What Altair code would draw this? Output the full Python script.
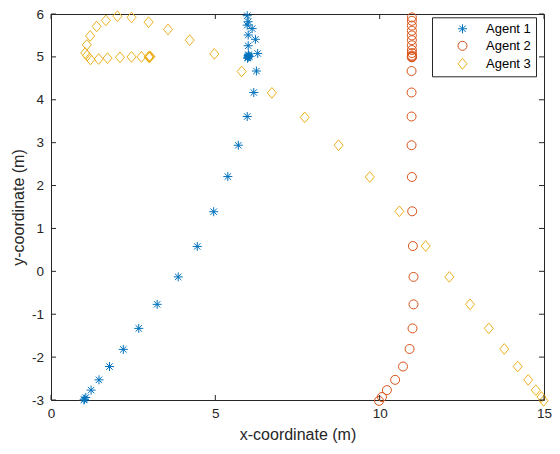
import altair as alt
import pandas as pd

agents = ["Agent 1", "Agent 2", "Agent 3"]
colors = ["#0072BD", "#D95319", "#EDB120"]

agent1_x = [1.00, 1.02, 1.06, 1.22, 1.46, 1.78, 2.20, 2.67, 3.23, 3.87, 4.45, 4.95, 5.38, 5.70,
            5.97, 6.17, 6.25, 6.29, 6.22, 6.12, 6.00, 6.00, 5.97, 6.00, 5.97,
            6.00, 6.02, 5.99, 6.01, 6.00, 5.98, 6.03]
agent1_y = [-3.00, -2.98, -2.94, -2.77, -2.53, -2.22, -1.82, -1.33, -0.77, -0.13, 0.58, 1.39, 2.21, 2.94,
            3.61, 4.17, 4.67, 5.08, 5.41, 5.66, 5.26, 5.51, 5.74, 5.82, 5.96,
            5.00, 5.02, 4.98, 5.05, 5.03, 4.97, 5.01]

agent2_x = [9.98, 10.07, 10.22, 10.47, 10.71, 10.91, 11.00, 11.03, 11.03, 11.01, 10.99, 10.98,
            10.97, 10.97, 10.97, 10.97, 10.98, 10.98, 10.98, 10.98, 10.98, 10.98, 10.98, 10.98,
            10.98, 10.98, 10.98, 10.98, 10.98]
agent2_y = [-3.02, -2.93, -2.77, -2.53, -2.22, -1.81, -1.33, -0.77, -0.13, 0.59, 1.40, 2.20,
            2.94, 3.61, 4.17, 4.67, 5.01, 4.99, 5.03, 5.09, 5.16, 5.27, 5.39, 5.50,
            5.61, 5.73, 5.84, 5.92, 5.00]

agent3_x = [14.99, 14.92, 14.75, 14.52, 14.20, 13.79, 13.32, 12.75, 12.12, 11.40, 10.60, 9.70,
            8.75, 7.72, 6.72, 5.80, 4.97, 4.22, 3.56, 2.97, 2.45, 2.02, 1.67, 1.39, 1.19, 1.09,
            1.04, 1.10, 1.20, 1.45, 1.72, 2.10, 2.45, 2.75, 2.97, 3.00, 3.02, 2.99, 3.01]
agent3_y = [-3.02, -2.93, -2.77, -2.53, -2.22, -1.81, -1.33, -0.77, -0.13, 0.59, 1.40, 2.20,
            2.94, 3.59, 4.16, 4.66, 5.07, 5.39, 5.64, 5.81, 5.92, 5.95, 5.85, 5.71, 5.49, 5.28,
            5.09, 5.03, 4.94, 4.95, 4.97, 4.99, 5.00, 5.00, 5.00, 5.00, 5.01, 4.99, 5.00]

tick_x = [0, 5, 10, 15]
tick_y = [-3, -2, -1, 0, 1, 2, 3, 4, 5, 6]

W, H = 493, 386
AX = "#262626"
FONT = "Liberation Sans"

df = pd.concat([
    pd.DataFrame({"x": agent1_x, "y": agent1_y, "agent": agents[0]}),
    pd.DataFrame({"x": agent2_x, "y": agent2_y, "agent": agents[1]}),
    pd.DataFrame({"x": agent3_x, "y": agent3_y, "agent": agents[2]}),
], ignore_index=True)

star = "M-0.9,0L0.9,0M0,-0.9L0,0.9M-0.64,-0.64L0.64,0.64M-0.64,0.64L0.64,-0.64"
circ = "M-0.9,0A0.9,0.9,0,1,1,0.9,0A0.9,0.9,0,1,1,-0.9,0Z"
diam = "M0,-1.07L0.9,0L0,1.07L-0.9,0Z"

xs = alt.Scale(domain=[0, 15], nice=False, zero=False)
ys = alt.Scale(domain=[-3, 6], nice=False, zero=False)

legend = alt.Legend(title=None, orient="none", legendX=381, legendY=3.3,
                    strokeColor=AX, fillColor="white", padding=5,
                    symbolOffset=19, labelOffset=17, rowPadding=3,
                    labelFontSize=13, labelFont=FONT, labelColor="black",
                    symbolStrokeWidth=1, symbolSize=100)

points = alt.Chart(df).mark_point(filled=False, opacity=1, strokeWidth=1, size=100).encode(
    x=alt.X("x:Q", scale=xs, axis=alt.Axis(title="x-coordinate (m)", values=tick_x,
                                           labelFlush=False, labelPadding=6, titlePadding=7,
                                           labelExpr="datum.value")),
    y=alt.Y("y:Q", scale=ys, axis=alt.Axis(title="y-coordinate (m)", values=tick_y,
                                           labelPadding=7.5, titlePadding=5,
                                           labelExpr="datum.value")),
    color=alt.Color("agent:N", scale=alt.Scale(domain=agents, range=colors), legend=legend),
    shape=alt.Shape("agent:N", scale=alt.Scale(domain=agents, range=[star, circ, diam]), legend=legend),
)

dx = pd.DataFrame({"x": tick_x})
dy = pd.DataFrame({"y": tick_y})
tb = alt.Chart(dx).mark_rule(color=AX, strokeWidth=1).encode(
    x=alt.X("x:Q", scale=xs), y=alt.value(H), y2=alt.value(H - 5))
tt = alt.Chart(dx).mark_rule(color=AX, strokeWidth=1).encode(
    x=alt.X("x:Q", scale=xs), y=alt.value(0), y2=alt.value(5))
tl = alt.Chart(dy).mark_rule(color=AX, strokeWidth=1).encode(
    y=alt.Y("y:Q", scale=ys), x=alt.value(0), x2=alt.value(5))
tr = alt.Chart(dy).mark_rule(color=AX, strokeWidth=1).encode(
    y=alt.Y("y:Q", scale=ys), x=alt.value(W), x2=alt.value(W - 5))

chart = alt.layer(points, tb, tt, tl, tr).properties(
    width=W, height=H,
    padding={"left": 43, "top": 6, "right": 8, "bottom": 43},
    autosize=alt.AutoSizeParams(type="none"),
    background="white",
).configure_view(stroke=AX, strokeWidth=1).configure_axis(
    ticks=False, domain=False, grid=False,
    labelFont=FONT, labelFontSize=13.5, labelColor=AX,
    titleFont=FONT, titleFontSize=16, titleFontWeight="normal", titleColor=AX,
)

chart.save("out.html", embed_options={"renderer": "svg", "actions": False})
